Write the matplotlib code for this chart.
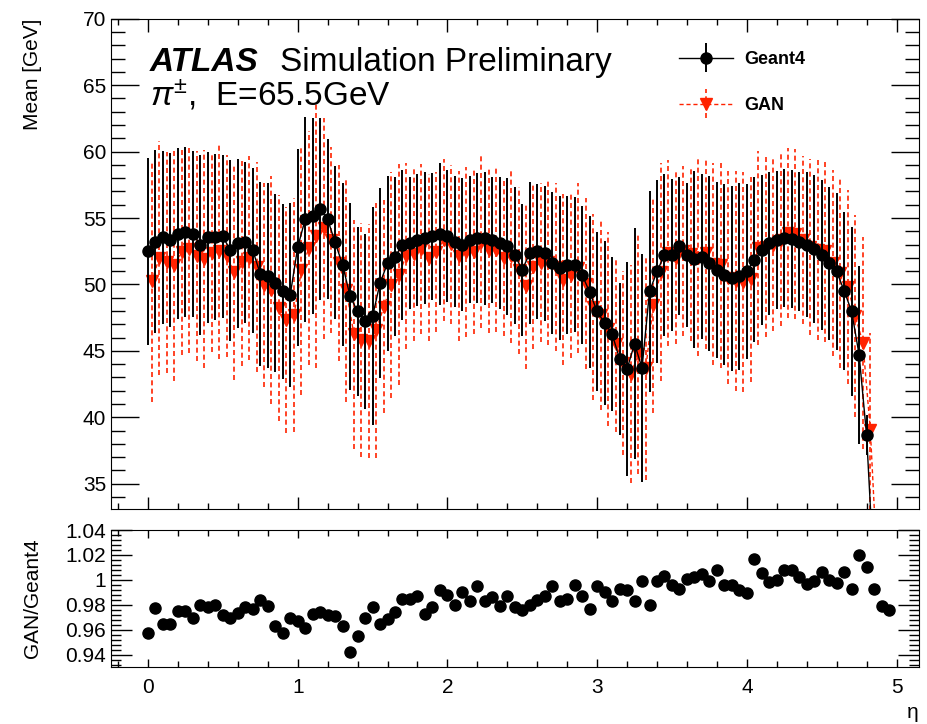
import matplotlib
matplotlib.use("Agg")
import matplotlib.pyplot as plt
import numpy as np
from matplotlib.container import ErrorbarContainer
from matplotlib.legend_handler import HandlerErrorbar
from matplotlib.ticker import FuncFormatter, MultipleLocator

plt.rcParams["font.family"] = ["Liberation Sans", "DejaVu Sans"]
plt.rcParams["mathtext.fontset"] = "custom"
plt.rcParams["mathtext.rm"] = "Liberation Sans"
plt.rcParams["mathtext.it"] = "Liberation Sans:italic"
plt.rcParams["mathtext.bf"] = "Liberation Sans:bold"

# eta bins (step 0.05), 100 bins
eta = np.arange(100) * 0.05

# Geant4 mean energy [GeV] and its spread
g4_mean = [
    52.48, 53.23, 53.56, 53.36, 53.81, 53.98, 53.81, 52.98, 53.56, 53.56,
    53.61, 52.56, 53.10, 53.16, 52.56, 50.80, 50.65, 50.10, 49.47, 49.20,
    52.80, 54.90, 55.16, 55.66, 54.91, 53.16, 51.48, 49.10, 47.97, 47.22,
    47.60, 50.10, 51.60, 52.10, 52.98, 53.10, 53.36, 53.48, 53.61, 53.81,
    53.66, 53.23, 52.98, 53.36, 53.48, 53.48, 53.36, 53.10, 52.86, 52.20,
    51.10, 52.36, 52.48, 52.36, 51.60, 51.23, 51.48, 51.48, 50.73, 49.42,
    47.97, 47.09, 46.29, 44.39, 43.63, 45.54, 43.71, 49.47, 50.98, 52.23,
    52.23, 52.91, 52.23, 51.90, 52.10, 51.60, 51.10, 50.73, 50.48, 50.60,
    50.98, 51.85, 52.56, 53.10, 53.36, 53.48, 53.41, 53.23, 52.98, 52.66,
    52.23, 51.60, 50.98, 49.52, 47.97, 44.71, 38.65, 28.0, 22.0, 18.0,
]
g4_err = [
    7.05, 6.90, 6.50, 6.56, 6.44, 6.40, 6.27, 6.77, 6.44, 6.26,
    6.14, 6.81, 6.35, 6.09, 6.19, 6.94, 6.97, 6.72, 6.60, 6.95,
    7.40, 7.70, 7.40, 6.84, 6.04, 5.76, 6.14, 7.02, 6.33, 6.57,
    8.20, 7.14, 6.58, 5.95, 5.64, 4.97, 4.95, 4.95, 4.80, 5.33,
    4.97, 4.95, 5.00, 4.79, 4.89, 5.01, 4.76, 4.95, 5.16, 5.14,
    4.97, 5.33, 5.11, 5.08, 5.35, 5.39, 5.20, 5.08, 5.20, 5.70,
    5.97, 6.20, 5.80, 5.75, 8.05, 8.70, 8.60, 7.60, 6.90, 6.10,
    5.70, 5.20, 5.40, 6.65, 6.20, 6.58, 6.64, 6.83, 6.96, 7.02,
    6.58, 6.20, 5.64, 5.39, 5.20, 5.20, 5.20, 5.23, 5.45, 5.58,
    5.64, 5.76, 5.89, 5.95, 6.39, 6.70, 1.50, 2.0, 2.0, 2.0,
]

# GAN / Geant4 ratio of the means
ratio = [
    0.957, 0.977, 0.9645, 0.9645, 0.975, 0.975, 0.9696, 0.980, 0.978, 0.980,
    0.972, 0.969, 0.973, 0.978, 0.9765, 0.9835, 0.979, 0.9627, 0.957, 0.969,
    0.967, 0.961, 0.9725, 0.974, 0.972, 0.971, 0.963, 0.942, 0.955, 0.969,
    0.978, 0.9645, 0.9685, 0.974, 0.9845, 0.9845, 0.9867, 0.9725, 0.978, 0.9915,
    0.988, 0.980, 0.990, 0.9827, 0.9947, 0.9827, 0.986, 0.979, 0.9867, 0.978,
    0.976, 0.980, 0.984, 0.9867, 0.9947, 0.9832, 0.9845, 0.9955, 0.987, 0.9768,
    0.995, 0.990, 0.983, 0.993, 0.9915, 0.983, 0.9992, 0.9795, 0.9992, 1.0027,
    0.996, 0.993, 1.0008, 1.002, 1.0048, 0.9987, 1.0075, 0.9955, 0.9955, 0.992,
    0.9893, 1.0165, 1.0053, 0.998, 1.000, 1.0075, 1.0075, 1.002, 0.9968, 0.9987,
    1.0059, 1.000, 0.9973, 1.0059, 0.9925, 1.020, 1.0101, 0.9925, 0.9792, 0.976,
]
gan_err = [
    9.1, 8.8, 8.3, 8.7, 7.8, 7.8, 7.9, 8.2, 7.5, 8.1,
    7.6, 8.1, 7.8, 7.7, 7.9, 7.7, 8.6, 8.5, 8.5, 8.8,
    9.4, 8.8, 9.9, 8.3, 7.0, 7.4, 8.4, 8.6, 8.8, 8.8,
    9.6, 8.0, 8.5, 8.3, 7.0, 6.5, 6.4, 6.3, 6.0, 6.1,
    6.0, 6.4, 6.4, 6.2, 6.5, 6.2, 6.2, 5.9, 6.6, 6.3,
    6.2, 6.2, 6.0, 6.2, 6.3, 6.4, 6.2, 6.4, 6.4, 7.0,
    7.2, 7.3, 6.6, 6.9, 8.2, 9.0, 8.4, 8.1, 8.2, 7.0,
    6.5, 6.4, 6.5, 7.4, 7.2, 7.6, 7.8, 8.0, 8.3, 8.3,
    7.8, 7.3, 6.8, 6.5, 6.5, 6.4, 6.4, 6.3, 6.6, 6.8,
    6.9, 7.0, 7.1, 7.3, 7.6, 8.0, 7.3, 5.0, 5.0, 5.0,
]
gan_mean = np.array(g4_mean) * np.array(ratio)

RED = "#ff2200"
W, H = 928, 724

fig = plt.figure(figsize=(W / 100, H / 100), dpi=100)
ax = fig.add_axes([111 / W, 1 - 509 / H, 808 / W, (509 - 18.7) / H])
axr = fig.add_axes([111 / W, 1 - 667 / H, 808 / W, (667 - 530) / H])

# GAN first so the Geant4 markers sit on top
eb_gan = ax.errorbar(eta + 0.025, gan_mean, yerr=gan_err, fmt="", marker="v",
                     ms=8, color=RED, ls=(0, (3, 2)), lw=1.0,
                     elinewidth=1.2, capsize=0, zorder=2)
eb_gan[2][0].set_linestyle((0, (3, 2)))
eb_g4 = ax.errorbar(eta, g4_mean, yerr=g4_err, fmt="", marker="o", ms=8,
                    color="black", ls="-", lw=1.0, elinewidth=1.4,
                    capsize=0, zorder=3)

ax.set_xlim(-0.247, 5.15)
ax.set_ylim(33.1, 70)
ax.xaxis.set_major_locator(MultipleLocator(1))
ax.xaxis.set_minor_locator(MultipleLocator(0.2))
ax.yaxis.set_major_locator(MultipleLocator(5))
ax.yaxis.set_minor_locator(MultipleLocator(1))
ax.tick_params(which="both", direction="in", top=True, right=True,
               labelbottom=False, labelsize=15)
ax.tick_params(axis="y", which="major", length=20, width=1)
ax.tick_params(axis="y", which="minor", length=10, width=1)
ax.tick_params(axis="x", which="major", length=9, width=1)
ax.tick_params(axis="x", which="minor", length=4.5, width=1)
ax.set_ylabel("Mean [GeV]", fontsize=15, loc="top")
ax.yaxis.set_label_coords(-0.086, 1.0)

ax.text(0.048, 0.893, "ATLAS", fontsize=24, fontweight="bold", style="italic",
        transform=ax.transAxes)
ax.text(0.209, 0.893, "Simulation Preliminary", fontsize=24,
        transform=ax.transAxes)
ax.text(0.048, 0.822, r"$\pi^{\pm}$,  E=65.5GeV", fontsize=24,
        transform=ax.transAxes)

ax.legend([eb_g4, eb_gan], ["Geant4", "GAN"], loc="upper left",
          bbox_to_anchor=(0.692, 0.952), frameon=False, borderpad=0,
          prop={"weight": "bold", "size": 13}, handlelength=3.0,
          handletextpad=0.6, labelspacing=1.6,
          handler_map={ErrorbarContainer: HandlerErrorbar(yerr_size=0.8)})

# ratio panel
axr.plot(eta, ratio, "o", color="black", ms=8, ls="none")
axr.set_xlim(-0.247, 5.15)
axr.set_ylim(0.93, 1.04)
axr.xaxis.set_major_locator(MultipleLocator(1))
axr.xaxis.set_minor_locator(MultipleLocator(0.2))
axr.yaxis.set_major_locator(MultipleLocator(0.02))
axr.yaxis.set_minor_locator(MultipleLocator(0.004))
axr.yaxis.set_major_formatter(FuncFormatter(lambda v, p: f"{v:g}"))
axr.tick_params(which="both", direction="in", top=True, right=True,
                labelsize=15)
axr.tick_params(axis="y", which="major", length=15, width=1)
axr.tick_params(axis="y", which="minor", length=7, width=1)
axr.tick_params(axis="x", which="major", length=6, width=1)
axr.tick_params(axis="x", which="minor", length=4, width=1)
axr.tick_params(axis="x", pad=8)
axr.set_ylabel("GAN/Geant4", fontsize=15)
axr.yaxis.set_label_coords(-0.086, 0.5)
axr.set_xlabel("η", fontsize=15, loc="right")

fig.savefig("out.png", dpi=100)
